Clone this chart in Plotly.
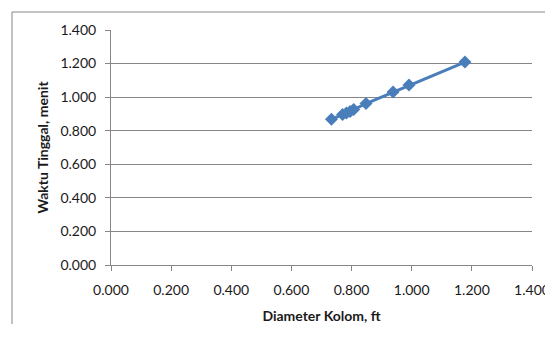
import plotly.graph_objects as go

diameter_ft = [0.733, 0.770, 0.783, 0.795, 0.807, 0.848, 0.938, 0.991, 1.177]
waktu_menit = [0.868, 0.897, 0.906, 0.915, 0.926, 0.962, 1.030, 1.072, 1.209]

tick_vals = [0.0, 0.2, 0.4, 0.6, 0.8, 1.0, 1.2, 1.4]
tick_text = ["0.000", "0.200", "0.400", "0.600", "0.800", "1.000", "1.200", "1.400"]

color = "#4A7EBB"
font = "Lato, 'Open Sans', sans-serif"

# page body has an 8px default margin, so the figure is placed at (8, 8)
fig = go.Figure()
fig.add_trace(go.Scatter(
    x=diameter_ft, y=waktu_menit, mode="lines+markers",
    line=dict(color=color, width=3),
    marker=dict(symbol="diamond", size=10, color=color),
    showlegend=False,
))

fig.update_layout(
    width=545, height=316,
    margin=dict(l=103, r=21, t=22, b=59),
    paper_bgcolor="white", plot_bgcolor="white",
    font=dict(family=font, size=14, color="#1a1a1a"),
    xaxis=dict(
        range=[0, 1.4], tickvals=tick_vals, ticktext=tick_text,
        showgrid=False, zeroline=False, automargin=False,
        showline=True, linecolor="#868686", linewidth=1,
        ticks="outside", ticklen=5, tickcolor="#868686",
        ticklabelstandoff=7,
        title=dict(text="<b>Diameter Kolom, ft</b>", font=dict(size=14), standoff=20),
    ),
    yaxis=dict(
        range=[0, 1.4], tickvals=tick_vals, ticktext=tick_text,
        showgrid=True, gridcolor="#868686", gridwidth=1, zeroline=False, automargin=False,
        showline=True, linecolor="#868686", linewidth=1,
        ticks="outside", ticklen=5, tickcolor="#868686",
        ticklabelstandoff=6,
        title=dict(text="<b>Waktu Tinggal, menit</b>", font=dict(size=14), standoff=8),
    ),
    shapes=[
        dict(type="line", xref="paper", yref="paper",
             x0=-99/421, x1=1.2, y0=1 + 18/235, y1=1 + 18/235,
             line=dict(color="#868686", width=1)),
        dict(type="line", xref="paper", yref="paper",
             x0=-99/421, x1=-99/421, y0=-0.5, y1=1 + 18/235,
             line=dict(color="#868686", width=1)),
    ],
)

fig.write_html("out.html")
